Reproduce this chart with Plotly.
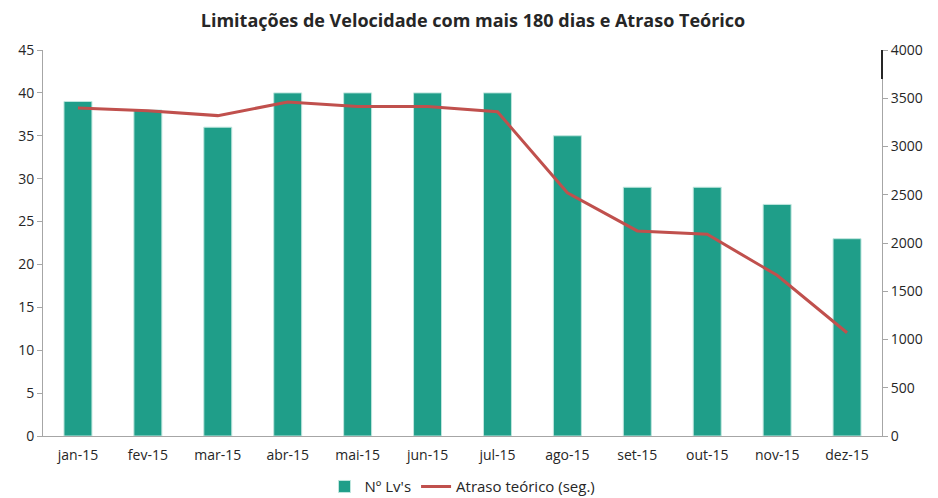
import plotly.graph_objects as go

months = ['jan-15', 'fev-15', 'mar-15', 'abr-15', 'mai-15', 'jun-15',
          'jul-15', 'ago-15', 'set-15', 'out-15', 'nov-15', 'dez-15']
n_lvs = [39, 38, 36, 40, 40, 40, 40, 35, 29, 29, 27, 23]
atraso = [3400, 3370, 3320, 3460, 3415, 3415, 3360, 2520, 2125, 2090, 1665, 1070]

font_family = "Open Sans, Noto Sans, sans-serif"
axis_color = '#a6a6a6'

fig = go.Figure()

fig.add_trace(go.Bar(
    x=months,
    y=n_lvs,
    name="Nº Lv's",
    marker_color='#1f9e89',
    marker_line=dict(color='#bfe6de', width=1),
    width=0.4
))

fig.add_trace(go.Scatter(
    x=months,
    y=atraso,
    name='Atraso teórico (seg.)',
    yaxis='y2',
    mode='lines',
    line=dict(color='#c0504d', width=3)
))

# page body has an 8px margin, so the figure is a bit smaller than the window
fig.update_layout(
    width=930,
    height=490,
    margin=dict(l=35, r=56, t=42, b=62, autoexpand=False),
    paper_bgcolor='white',
    plot_bgcolor='white',
    font=dict(family=font_family, size=13, color='#262626'),
    title=dict(
        text='<b>Limitações de Velocidade com mais 180 dias e Atraso Teórico</b>',
        x=0.5, xanchor='center', y=0.975, yanchor='middle',
        font=dict(size=18, color='#262626')
    ),
    xaxis=dict(
        showline=True, linecolor=axis_color, linewidth=1,
        ticks='outside', ticklen=6, tickcolor='rgba(0,0,0,0)',
        showgrid=False, tickfont=dict(size=14)
    ),
    yaxis=dict(
        range=[0, 45], dtick=5, showline=True, linecolor=axis_color,
        ticks='outside', ticklen=5, tickcolor=axis_color,
        showgrid=False, zeroline=False, tickfont=dict(size=14)
    ),
    yaxis2=dict(
        range=[0, 4000], dtick=500, overlaying='y', side='right',
        showline=True, linecolor=axis_color, ticks='outside', ticklen=5,
        tickcolor=axis_color, showgrid=False, zeroline=False,
        tickfont=dict(size=14)
    ),
    legend=dict(
        orientation='h', x=0.5, xanchor='center',
        yref='container', y=0.023, yanchor='middle',
        font=dict(size=15)
    ),
    bargap=0.6,
    showlegend=True
)

fig.add_shape(
    type='line', xref='paper', yref='y2',
    x0=1, x1=1, y0=4000, y1=3700,
    line=dict(color='#262626', width=2)
)

fig.write_html("out.html")
